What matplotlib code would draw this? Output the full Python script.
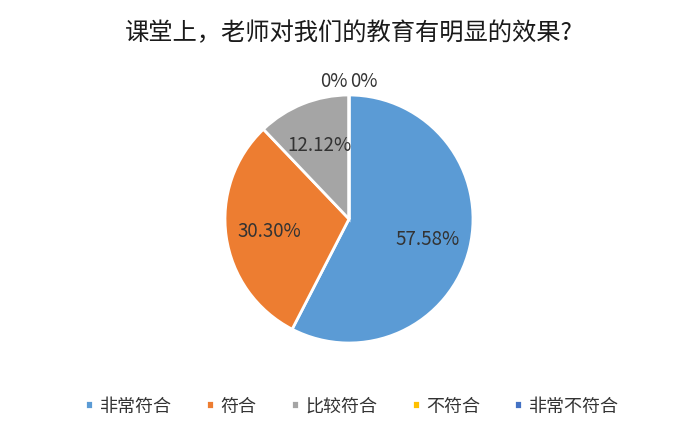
import numpy as np
import matplotlib
matplotlib.use("Agg")
import matplotlib.pyplot as plt

plt.rcParams['font.family'] = ['Noto Sans CJK SC', 'DejaVu Sans']

title = "课堂上，老师对我们的教育有明显的效果?"
categories = ["非常符合", "符合", "比较符合", "不符合", "非常不符合"]
values = [57.58, 30.30, 12.12, 0.0, 0.0]
colors = ["#5B9BD5", "#ED7D31", "#A5A5A5", "#FFC000", "#4472C4"]

W, H = 698, 435
fig = plt.figure(figsize=(W / 100, H / 100), dpi=100)
fig.patch.set_facecolor("white")

cx, cy, r = 349, 220, 124
ax = fig.add_axes([(cx - r) / W, (H - cy - r) / H, 2 * r / W, 2 * r / H])

wedges, _ = ax.pie(values, colors=colors, startangle=90, counterclock=False,
                   radius=1.0, wedgeprops=dict(edgecolor="white", linewidth=2))
ax.set_xlim(-1, 1); ax.set_ylim(-1, 1)
ax.set_aspect("equal")
ax.axis("off")

zero_side = -1
for w, v in zip(wedges, values):
    mid = np.deg2rad((w.theta1 + w.theta2) / 2)
    if v > 0:
        ax.text(0.65 * np.cos(mid), 0.65 * np.sin(mid), f"{v:.2f}%",
                ha="center", va="center", fontsize=13.5, color="#333333")
    else:
        ax.text(1.13 * np.cos(mid) + zero_side * 0.12, 1.12 * np.sin(mid), "0%",
                ha="center", va="center", fontsize=13.5, color="#333333")
        zero_side = -zero_side

fig.text(cx / W, 1 - 33 / H, title, ha="center", va="center",
         fontsize=17.5, color="#1a1a1a")

fig.legend(wedges, categories, loc="center", bbox_to_anchor=(352 / W, 1 - 407 / H),
           ncol=5, frameon=False, fontsize=13, handlelength=0.45, handleheight=0.45,
           handletextpad=0.35, columnspacing=1.9, labelcolor="#333333")

fig.savefig("out.png", dpi=100, facecolor="white")
